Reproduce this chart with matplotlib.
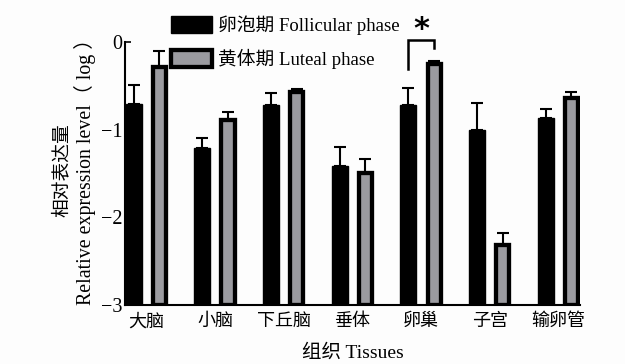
import matplotlib
matplotlib.use("Agg")
import matplotlib.pyplot as plt
from matplotlib.patches import Patch
import numpy as np

categories = ["大脑", "小脑", "下丘脑", "垂体", "卵巢", "子宫", "输卵管"]
follicular = [-0.71, -1.21, -0.72, -1.41, -0.72, -1.00, -0.87]
follicular_err = [0.22, 0.11, 0.14, 0.21, 0.19, 0.30, 0.11]
luteal = [-0.29, -0.89, -0.57, -1.50, -0.25, -2.31, -0.64]
luteal_err = [0.19, 0.09, 0.03, 0.17, 0.03, 0.13, 0.07]
yticks = [0, -1, -2, -3]

fam = ["Liberation Serif", "Noto Sans CJK SC"]
plt.rcParams["font.family"] = fam

fig = plt.figure(figsize=(6.25, 3.64), dpi=100)
fig.patch.set_facecolor("#fdfdfd")
ax = fig.add_axes([0.2, 0.162, 0.728, 0.723])
ax.set_facecolor("#fdfdfd")

x = np.arange(len(categories))
w1 = 0.235
w2 = 0.19
off = 0.375
base = -3
h1 = [v - base for v in follicular]
h2 = [v - base for v in luteal]
ax.bar(x, h1, w1, bottom=base, color="black", edgecolor="black", linewidth=1,
       yerr=[np.zeros(len(x)), follicular_err], capsize=4,
       error_kw=dict(elinewidth=1.5, capthick=1.5, ecolor="black"), zorder=2)
ax.bar(x + off, h2, w2, bottom=base, color="#9b9ba0", edgecolor="black", linewidth=3.1,
       yerr=[np.zeros(len(x)), luteal_err], capsize=4,
       error_kw=dict(elinewidth=1.5, capthick=1.5, ecolor="black"), zorder=2)

ax.set_xlim(-0.125, len(x) - 1 + 0.5)
ax.set_ylim(-3, 0)
ax.set_yticks(yticks)
ax.set_yticklabels(["0", "\u22121", "\u22122", "\u22123"], fontsize=14.5)
ax.set_xticks(x + off / 2)
ax.set_xticklabels(categories, fontsize=13)
ax.tick_params(axis="x", length=0, pad=6)
ax.tick_params(axis="y", direction="in", length=4, width=1.2, pad=2)
for s in ["top", "right"]:
    ax.spines[s].set_visible(False)
for s in ["left", "bottom"]:
    ax.spines[s].set_linewidth(1.5)

# y-axis label (two lines, placed individually)
fig.text(62 / 625, 1 - 170 / 364, "相对表达量", rotation=90, ha="center", va="center",
         fontsize=13.5)
fig.text(85 / 625, 1 - 167 / 364, "Relative expression level（ log ）", rotation=90,
         ha="center", va="center", fontsize=14.3)
ax.set_xlabel("组织 Tissues", fontsize=14, labelpad=10)

# significance bracket on ovary group
i = 4
xl = i
xr = i + off
ax.plot([xl, xl, xr, xr], [follicular[i] + follicular_err[i] + 0.22, 0.025, 0.025, -0.07],
        color="black", linewidth=1.8, clip_on=False, solid_joinstyle="miter")
ax.text((xl + xr) / 2, 0.04, "*", ha="center", va="baseline", fontsize=22,
        fontweight="bold", family="DejaVu Sans")

handles = [Patch(facecolor="black", edgecolor="black", linewidth=1),
           Patch(facecolor="#9b9ba0", edgecolor="black", linewidth=3.1)]
fig.legend(handles, ["卵泡期 Follicular phase", "黄体期 Luteal phase"],
           loc="upper left", bbox_to_anchor=(0.274, 0.958), frameon=False,
           fontsize=13.5, handlelength=2.15, handleheight=1.05, labelspacing=0.75,
           handletextpad=0.35, borderaxespad=0, borderpad=0)

fig.savefig("out.png", dpi=100, facecolor=fig.get_facecolor())
